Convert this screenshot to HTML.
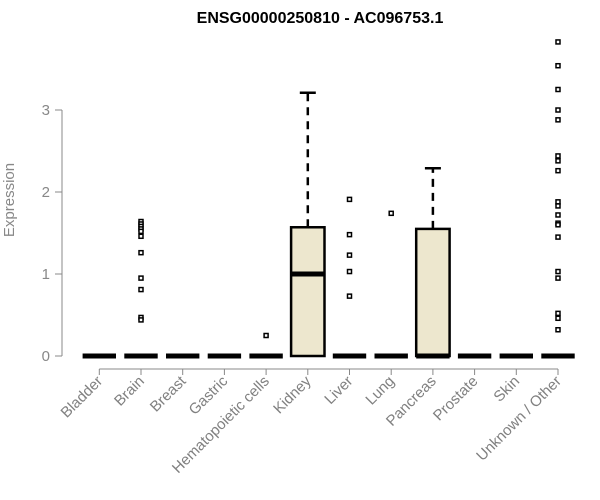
<!DOCTYPE html>
<html><head><meta charset="utf-8"><style>
body{margin:0;background:#fff;font-family:"Liberation Sans",Arial,sans-serif}
svg{display:block}
</style></head><body>
<svg id="chart" width="600" height="500" xmlns="http://www.w3.org/2000/svg">
<text x="320" y="23" text-anchor="middle" font-size="16" font-weight="bold">ENSG00000250810 - AC096753.1</text>
<text transform="translate(14,200) rotate(-90)" text-anchor="middle" font-size="15" fill="#888">Expression</text>
<g id="yaxis"></g>
<g id="xaxis"></g>
<g id="boxes"></g>
</svg>
<script>
const categories=["Bladder","Brain","Breast","Gastric","Hematopoietic cells","Kidney","Liver","Lung","Pancreas","Prostate","Skin","Unknown / Other"];
const q1=[0,0,0,0,0,0,0,0,0,0,0,0];
const medians=[0,0,0,0,0,1.0,0,0,0,0,0,0];
const q3=[0,0,0,0,0,1.57,0,0,1.55,0,0,0];
const whiskerHigh=[0,0,0,0,0,3.21,0,0,2.29,0,0,0];
const outliers=[[],[1.64,1.61,1.58,1.55,1.52,1.46,1.26,0.95,0.81,0.47,0.44],[],[],[0.25],[],[1.91,1.48,1.23,1.03,0.73],[1.74],[],[],[],[3.83,3.54,3.25,3.0,2.88,2.44,2.38,2.26,1.88,1.83,1.72,1.62,1.6,1.45,1.03,0.95,0.52,0.46,0.32]];
const yTicks=[0,1,2,3];
const NS="http://www.w3.org/2000/svg";
function y(v){return 356-82*v;}
function x(i){return 99.3+41.7*i;}
function mk(tag,attrs,parent){const e=document.createElementNS(NS,tag);for(const k in attrs)e.setAttribute(k,attrs[k]);parent.appendChild(e);return e;}
const ya=document.getElementById('yaxis');
mk('line',{x1:62,x2:62,y1:y(3),y2:y(0),stroke:'#888'},ya);
yTicks.forEach(t=>{
 mk('line',{x1:55,x2:62,y1:y(t),y2:y(t),stroke:'#888'},ya);
 const tx=mk('text',{x:50,y:y(t)+5,'text-anchor':'end','font-size':15,fill:'#888'},ya);
 tx.textContent=t;
 
 
});
const xa=document.getElementById('xaxis');
mk('line',{x1:x(0),x2:x(11),y1:369,y2:369,stroke:'#888'},xa);
categories.forEach((c,i)=>{
 mk('line',{x1:x(i),x2:x(i),y1:369,y2:375,stroke:'#888'},xa);
 const tx=mk('text',{transform:`translate(${x(i)+4},${382}) rotate(-45)`,'text-anchor':'end','font-size':15,fill:'#808080'},xa);
 tx.textContent=c;
 
 
});
const bx=document.getElementById('boxes');
categories.forEach((c,i)=>{
 const g=mk('g',{},bx);
 
 
 const cx=x(i),hw=16.7;
 if(whiskerHigh[i]>q3[i]){
  mk('line',{x1:cx,x2:cx,y1:y(q3[i]),y2:y(whiskerHigh[i]),stroke:'#000','stroke-width':2.5,'stroke-dasharray':'8,6'},g);
  mk('line',{x1:cx-8,x2:cx+8,y1:y(whiskerHigh[i]),y2:y(whiskerHigh[i]),stroke:'#000','stroke-width':2.5},g);
 }
 if(q3[i]>q1[i]){
  mk('rect',{x:cx-hw,y:y(q3[i]),width:2*hw,height:y(q1[i])-y(q3[i]),fill:'#ede7ce',stroke:'#000','stroke-width':2.5},g);
 }
 mk('line',{x1:cx-hw,x2:cx+hw,y1:y(medians[i]),y2:y(medians[i]),stroke:'#000','stroke-width':5},g);
 outliers[i].forEach(v=>{
  const r=mk('rect',{x:cx-2,y:y(v)-2,width:4,height:4,fill:'#fff',stroke:'#000','stroke-width':1.5},g);
  
  
 });
});
</script>
</body></html>
